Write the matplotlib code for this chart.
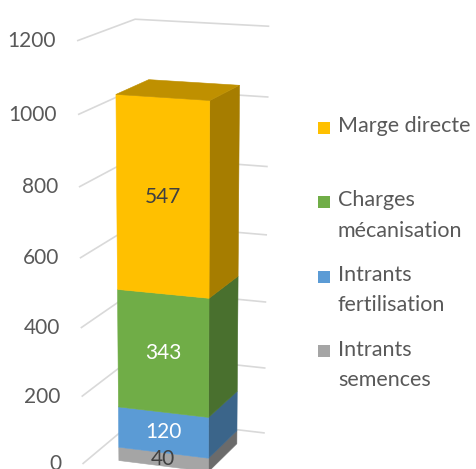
import numpy as np
import matplotlib
matplotlib.use("Agg")
import matplotlib.pyplot as plt
from matplotlib.patches import Polygon, Rectangle
from matplotlib.colors import to_rgb

plt.rcParams['font.family'] = ['Lato', 'DejaVu Sans']

# ---- data (stack order bottom -> top) ----
series = ["Intrants semences", "Intrants fertilisation", "Charges mécanisation", "Marge directe"]
legend_labels = ["Intrants\nsemences", "Intrants\nfertilisation", "Charges\nmécanisation", "Marge directe"]
values = [40, 120, 343, 547]
colors = ["#A5A5A5", "#5B9BD5", "#70AD47", "#FFC000"]
label_colors = ["#404040", "white", "white", "#404040"]
ticks = [0, 200, 400, 600, 800, 1000, 1200]

W, H = 477, 469
fig = plt.figure(figsize=(W / 100, H / 100), dpi=100)
ax = fig.add_axes([0, 0, 1, 1])
ax.set_xlim(0, W)
ax.set_ylim(H, 0)
ax.axis('off')

# ---- perspective camera (Excel-like 3D column) ----
alpha = np.radians(20)
phi = np.radians(15.5)
f = 2154.0
D = 22.0
k = 0.00372          # scene units per value unit
T = (0.686, 0.0, 498.7)
cx, cy = 180.0, 297.0


def proj(u, v, val):
    dx = u - T[0]
    dv = v - T[1]
    dw = (val - T[2]) * k
    xr = dx * np.cos(alpha) + dv * np.sin(alpha)
    yd = -dx * np.sin(alpha) + dv * np.cos(alpha)
    zr = dw * np.cos(phi) + yd * np.sin(phi)
    depth = yd * np.cos(phi) - dw * np.sin(phi)
    dist = D + depth
    return cx + f * xr / dist, cy - f * zr / dist


def shade(c, fac):
    r, g, b = to_rgb(c)
    return (r * fac, g * fac, b * fac)


# scene geometry
bar_u0, bar_u1 = 0.0, 1.0
bar_v0, bar_v1 = 0.0, 0.93
wall_u = -0.32
floor_v0 = -0.23
wall_v = 1.37
back_u1 = 1.175

grid_color = "#D9D9D9"
tick_color = "#595959"

# gridlines on left and back walls
for t in ticks:
    p0 = proj(wall_u, floor_v0, t)
    p1 = proj(wall_u, wall_v, t)
    p2 = proj(back_u1, wall_v, t)
    ax.plot([p0[0], p1[0], p2[0]], [p0[1], p1[1], p2[1]], color=grid_color,
            lw=1.2, solid_capstyle='butt', zorder=1)
    ax.text(p0[0] - 21, p0[1], str(t), ha='right', va='center',
            fontsize=15, color=tick_color, zorder=5)

# stacked bar
bottoms = np.concatenate([[0], np.cumsum(values)[:-1]])
for val, lo, col, lc in zip(values, bottoms, colors, label_colors):
    hi = lo + val
    front = [proj(bar_u0, bar_v0, lo), proj(bar_u1, bar_v0, lo),
             proj(bar_u1, bar_v0, hi), proj(bar_u0, bar_v0, hi)]
    side = [proj(bar_u1, bar_v0, lo), proj(bar_u1, bar_v1, lo),
            proj(bar_u1, bar_v1, hi), proj(bar_u1, bar_v0, hi)]
    ax.add_patch(Polygon(side, closed=True, fc=shade(col, 0.65),
                         ec=shade(col, 0.65), lw=0.4, zorder=2))
    ax.add_patch(Polygon(front, closed=True, fc=col, ec=col, lw=0.4, zorder=3))
    lx, ly = proj((bar_u0 + bar_u1) / 2, bar_v0, lo + val / 2)
    ax.text(lx, ly, str(val), ha='center', va='center', fontsize=15,
            color=lc, zorder=6)

total = sum(values)
top = [proj(bar_u0, bar_v0, total), proj(bar_u1, bar_v0, total),
       proj(bar_u1, bar_v1, total), proj(bar_u0, bar_v1, total)]
ax.add_patch(Polygon(top, closed=True, fc=shade(colors[-1], 0.75),
                     ec=shade(colors[-1], 0.75), lw=0.4, zorder=3))

# legend (top entry = top of stack)
leg_x, leg_y0, leg_step = 318, 128, 74.5
sq = 12
for i, (lab, col) in enumerate(zip(legend_labels[::-1], colors[::-1])):
    y = leg_y0 + i * leg_step
    ax.add_patch(Rectangle((leg_x, y - sq / 2), sq, sq, fc=col, ec='none', zorder=5))
    ax.text(leg_x + 20, y - 12, lab, ha='left', va='top', fontsize=15.5,
            color=tick_color, linespacing=1.65, zorder=5)

fig.savefig("out.png", dpi=100)
